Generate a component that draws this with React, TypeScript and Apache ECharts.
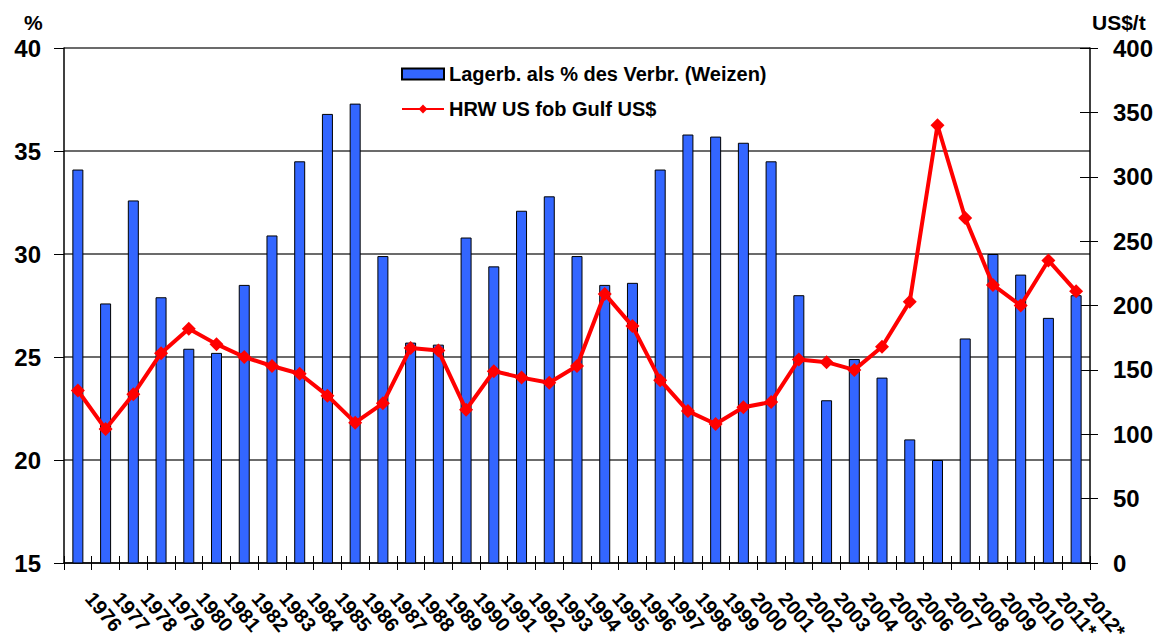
import React, { useEffect, useRef } from "react";
import * as echarts from "echarts";

const years = [
  "1976", "1977", "1978", "1979", "1980", "1981", "1982", "1983", "1984", "1985",
  "1986", "1987", "1988", "1989", "1990", "1991", "1992", "1993", "1994", "1995",
  "1996", "1997", "1998", "1999", "2000", "2001", "2002", "2003", "2004", "2005",
  "2006", "2007", "2008", "2009", "2010", "2011*", "2012*",
];

const stocksPct = [
  34.1, 27.6, 32.6, 27.9, 25.4, 25.2, 28.5, 30.9, 34.5, 36.8,
  37.3, 29.9, 25.7, 25.6, 30.8, 29.4, 32.1, 32.8, 29.9, 28.5,
  28.6, 34.1, 35.8, 35.7, 35.4, 34.5, 28.0, 22.9, 24.9, 24.0,
  21.0, 20.0, 25.9, 30.0, 29.0, 26.9, 28.0,
];

const hrwPrice = [
  134, 104, 131, 163, 182, 170, 160, 153, 147, 130,
  109, 124, 167, 165, 119, 149, 144, 140, 153, 209,
  184, 142, 118, 108, 121, 125, 158, 156, 150, 168,
  203, 340, 268, 216, 200, 235, 211,
];

const barName = "Lagerb. als % des Verbr. (Weizen)";
const lineName = "HRW US fob Gulf US$";

const FONT = "'Liberation Sans', Arial, sans-serif";

export default function App() {
  const ref = useRef<HTMLDivElement>(null);

  useEffect(() => {
    if (!ref.current) return;
    const chart = echarts.init(ref.current, undefined, { renderer: "svg" });
    chart.setOption({
      animation: false,
      backgroundColor: "#ffffff",
      textStyle: { fontFamily: FONT },
      grid: {
        left: 64,
        right: 74,
        top: 48,
        bottom: 78,
        containLabel: false,
        outerBoundsMode: "none",
      },
      legend: {
        orient: "vertical",
        left: 396,
        top: 59,
        itemWidth: 42,
        itemHeight: 11,
        itemGap: 15,
        textStyle: { fontFamily: FONT, fontSize: 20, fontWeight: "bold", color: "#000" },
        data: [
          { name: barName, icon: "rect" },
          { name: lineName },
        ],
      },
      graphic: [
        {
          type: "text",
          left: 24,
          top: 12,
          style: { text: "%", font: `bold 21px ${FONT}`, fill: "#000" },
        },
        {
          type: "text",
          left: 1092,
          top: 12,
          style: { text: "US$/t", font: `bold 21px ${FONT}`, fill: "#000" },
        },
      ],
      xAxis: [
        {
          type: "category",
          data: years,
          position: "bottom",
          boundaryGap: true,
          axisLine: { show: true, lineStyle: { color: "#000", width: 1.5 } },
          axisTick: { show: true, length: 7, interval: 0, lineStyle: { color: "#000", width: 1 } },
          axisLabel: {
            interval: 0,
            rotate: -50,
            margin: 18,
            padding: [0, 0, 0, 18],
            fontFamily: FONT,
            fontSize: 20,
            fontWeight: "bold",
            color: "#000",
          },
          splitLine: { show: false },
        },
        {
          type: "category",
          data: years,
          position: "bottom",
          boundaryGap: true,
          axisLine: { show: false },
          axisTick: { show: true, inside: true, length: 7, interval: 0, lineStyle: { color: "#000", width: 1 } },
          axisLabel: { show: false },
          splitLine: { show: false },
        },
      ],
      yAxis: [
        {
          type: "value",
          position: "left",
          min: 15,
          max: 40,
          interval: 5,
          axisLine: { show: true, lineStyle: { color: "#000", width: 1.5 } },
          axisTick: { show: true, length: 10, lineStyle: { color: "#000" } },
          axisLabel: {
            margin: 23,
            fontFamily: FONT,
            fontSize: 24,
            fontWeight: "bold",
            color: "#000",
          },
          splitLine: { show: true, lineStyle: { color: "#3a3a3a", width: 1.5 } },
        },
        {
          type: "value",
          position: "right",
          min: 0,
          max: 400,
          interval: 50,
          axisLine: { show: true, lineStyle: { color: "#000", width: 1.5 } },
          axisTick: { show: true, length: 8, lineStyle: { color: "#000" } },
          axisLabel: {
            margin: 23,
            fontFamily: FONT,
            fontSize: 24,
            fontWeight: "bold",
            color: "#000",
          },
          splitLine: { show: false },
        },
        {
          type: "value",
          position: "right",
          min: 0,
          max: 400,
          interval: 50,
          axisLine: { show: false },
          axisTick: { show: true, inside: true, length: 10, lineStyle: { color: "#000" } },
          axisLabel: { show: false },
          splitLine: { show: false },
        },
      ],
      series: [
        {
          name: barName,
          type: "bar",
          xAxisIndex: 0,
          yAxisIndex: 0,
          data: stocksPct,
          barWidth: 11,
          itemStyle: { color: "#3366FF", borderColor: "#000", borderWidth: 1 },
          z: 2,
        },
        {
          name: lineName,
          type: "line",
          xAxisIndex: 0,
          yAxisIndex: 1,
          data: hrwPrice,
          symbol: "diamond",
          symbolSize: 14,
          showAllSymbol: true,
          lineStyle: { color: "#FF0000", width: 4 },
          itemStyle: { color: "#FF0000" },
          z: 3,
        },
      ],
    });
    return () => chart.dispose();
  }, []);

  return (
    <div
      ref={ref}
      style={{ position: "fixed", left: 0, top: 0, width: 1164, height: 641 }}
    />
  );
}
